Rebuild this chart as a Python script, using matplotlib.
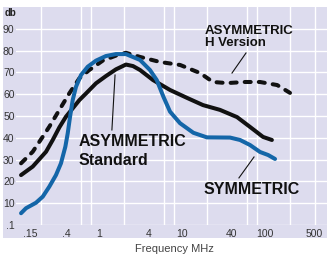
import matplotlib
matplotlib.use('Agg')
import matplotlib.pyplot as plt
from matplotlib.patches import Rectangle
from matplotlib.ticker import FixedLocator, NullFormatter

plt.rcParams['font.family'] = ['Liberation Sans', 'DejaVu Sans']

# SYMMETRIC (blue)
freq_sym = [0.115, 0.132, 0.174, 0.21, 0.252, 0.303, 0.348, 0.393, 0.42, 0.448,
            0.482, 0.528, 0.607, 0.731, 0.92, 1.21, 1.6, 2.11, 3.12, 4.11, 4.96,
            5.96, 7.17, 9.46, 13.7, 19.9, 37.9, 50, 65.9, 87, 109, 132]
db_sym = [5.4, 7.7, 10.2, 13.0, 17.6, 22.9, 28.3, 35.9, 42.1, 49.7,
          57.3, 63.4, 68.8, 72.6, 75.4, 77.5, 78.4, 78.4, 75.7, 71.1, 66.5,
          58.9, 52.0, 46.7, 42.3, 40.2, 40.1, 39.0, 36.7, 33.5, 32.1, 30.3]

# ASYMMETRIC Standard (solid black)
freq_std = [0.115, 0.159, 0.23, 0.277, 0.333, 0.40, 0.482, 0.58, 0.70,
            0.92, 1.21, 1.6, 2.11, 2.57, 3.12, 4.47, 7.2, 11.5, 17.9, 28.7,
            46, 65.9, 94.6, 121]
db_std = [22.9, 26.8, 33.6, 39.0, 44.8, 49.7, 53.5, 57.3, 60.4,
          65.0, 68.3, 71.4, 73.6, 72.9, 71.1, 66.5, 61.9, 58.3, 55.0, 52.8,
          49.5, 45.0, 40.4, 39.0]

# ASYMMETRIC H Version (dashed black)
freq_h = [0.115, 0.159, 0.21, 0.252, 0.333, 0.439, 0.58, 0.764, 1.11, 1.6,
          2.11, 3.12, 5.4, 9.5, 16.5, 23.6, 34.8, 57.4, 87, 140, 200]
db_h = [28.3, 33.6, 40.5, 45.1, 52.8, 60.4, 67.3, 71.1, 75.4, 77.7,
        79.0, 77.1, 74.8, 73.4, 69.7, 65.6, 65.1, 65.6, 65.6, 64.2, 60.6]

x_ticks = [0.15, 0.4, 1, 4, 10, 40, 100, 500]
x_labels = ['.15', '.4', '1', '4', '10', '40', '100', '500']
x_grid = [0.2, 0.4, 0.6, 0.8, 1, 2, 4, 6, 8, 10, 20, 40, 60, 80, 100, 200, 400]
y_ticks = [0, 10, 20, 30, 40, 50, 60, 70, 80, 90]
y_labels = ['.1', '10', '20', '30', '40', '50', '60', '70', '80', '90']

W, H = 327, 257
fig = plt.figure(figsize=(W / 100, H / 100), dpi=100)
fig.patches.append(Rectangle((3 / W, 19 / H), 324 / W, 231 / H, transform=fig.transFigure,
                             facecolor='#dddcee', edgecolor='none', zorder=-10))
ax = fig.add_axes([16 / W, 32 / H, 311 / W, 218 / H])
ax.set_facecolor('none')
ax.set_xscale('log')
ax.set_xlim(0.1, 558)
ax.set_ylim(0, 100)
for s in ax.spines.values():
    s.set_visible(False)

ax.xaxis.set_major_locator(FixedLocator(x_ticks))
ax.set_xticklabels(x_labels)
ax.get_xticklabels()[-1].set_ha('right')
ax.xaxis.set_minor_locator(FixedLocator(x_grid))
ax.xaxis.set_minor_formatter(NullFormatter())
ax.set_yticks(y_ticks)
ax.set_yticklabels(y_labels)
ax.tick_params(which='both', length=0, labelsize=7.5, labelcolor='#333333')
ax.tick_params(axis='x', pad=3)
ax.tick_params(axis='y', pad=1)
ax.set_axisbelow(True)
ax.grid(False)
ax.xaxis.grid(True, which='minor', color='white', lw=1.0)
ax.yaxis.grid(True, which='major', color='white', lw=1.0)

ax.plot(freq_h, db_h, color='#111111', lw=2.9, dashes=(1.5, 2.0),
        dash_capstyle='round', dash_joinstyle='round', zorder=3)
ax.plot(freq_std, db_std, color='#111111', lw=2.9, solid_capstyle='round',
        solid_joinstyle='round', zorder=4)
ax.plot(freq_sym, db_sym, color='#1466a8', lw=2.9, solid_capstyle='round',
        solid_joinstyle='round', zorder=5)

# labels with leader lines
ax.plot([59, 40], [78.9, 69.7], color='#111111', lw=0.8, zorder=6)
ax.text(18.9, 87.8, 'ASYMMETRIC', fontsize=9.5, fontweight='bold', color='#111111', va='baseline')
ax.text(18.9, 81.9, 'H Version', fontsize=9.5, fontweight='bold', color='#111111', va='baseline')

ax.plot([1.56, 1.43], [68.8, 43.6], color='#111111', lw=0.8, zorder=6)
ax.text(0.574, 36.2, 'ASYMMETRIC', fontsize=11.5, fontweight='bold', color='#111111', va='baseline')
ax.text(0.574, 27.5, 'Standard', fontsize=11.5, fontweight='bold', color='#111111', va='baseline')

ax.plot([73.7, 48.5], [31.2, 21.6], color='#111111', lw=0.8, zorder=6)
ax.text(18.4, 14.2, 'SYMMETRIC', fontsize=11.5, fontweight='bold', color='#111111', va='baseline')

fig.text(5 / W, 1 - 12.5 / H, 'db', fontsize=7, fontweight='bold', color='#222222', va='center')
fig.text(174 / W, 1 - 249 / H, 'Frequency MHz', fontsize=8, color='#444444', ha='center', va='center')

fig.savefig('out.png', dpi=100, facecolor='white')
